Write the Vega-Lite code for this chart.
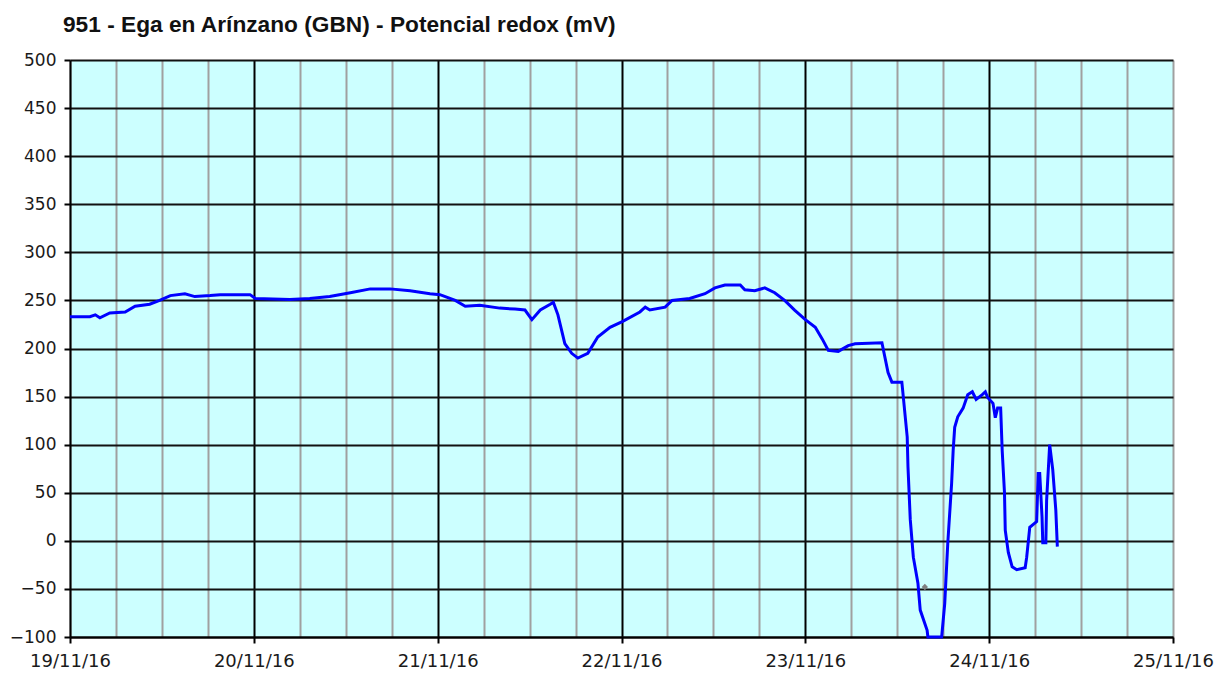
{
  "$schema": "https://vega.github.io/schema/vega-lite/v6.json",
  "width": 1103,
  "height": 577,
  "autosize": "none",
  "padding": {"left": 70, "top": 60, "right": 46, "bottom": 36},
  "background": "white",
  "title": {
    "text": "951 - Ega en Arínzano (GBN) - Potencial redox (mV)",
    "anchor": "start",
    "frame": "group",
    "dx": -7,
    "offset": 14,
    "font": "Liberation Sans",
    "fontSize": 22.7,
    "fontWeight": "bold",
    "color": "#111"
  },
  "config": {
    "view": {"fill": "#ccffff", "stroke": null},
    "axis": {
      "labelFont": "DejaVu Sans",
      "labelFontSize": 17,
      "labelColor": "#1a1a1a",
      "domainColor": "#000",
      "domainWidth": 2,
      "tickColor": "#000",
      "tickWidth": 2,
      "tickSize": 6,
      "gridWidth": 2,
      "title": null
    }
  },
  "datasets": {
    "redox": [
      {"h": 0, "v": 233}, {"h": 2.6, "v": 233}, {"h": 3.3, "v": 235}, {"h": 3.9, "v": 232},
      {"h": 5.2, "v": 237}, {"h": 7.2, "v": 238}, {"h": 8.5, "v": 244}, {"h": 10.4, "v": 246},
      {"h": 11.7, "v": 250}, {"h": 13.1, "v": 255}, {"h": 15.0, "v": 257}, {"h": 16.3, "v": 254},
      {"h": 18.3, "v": 255}, {"h": 19.6, "v": 256}, {"h": 23.5, "v": 256}, {"h": 24.2, "v": 252},
      {"h": 28.7, "v": 251}, {"h": 31.3, "v": 252}, {"h": 33.9, "v": 254}, {"h": 36.6, "v": 258},
      {"h": 39.2, "v": 262}, {"h": 41.8, "v": 262}, {"h": 44.4, "v": 260}, {"h": 47.0, "v": 257},
      {"h": 48.3, "v": 256}, {"h": 50.3, "v": 250}, {"h": 51.6, "v": 244}, {"h": 53.5, "v": 245},
      {"h": 56.1, "v": 242}, {"h": 58.1, "v": 241}, {"h": 59.4, "v": 240}, {"h": 60.3, "v": 230},
      {"h": 61.4, "v": 240}, {"h": 62.7, "v": 246}, {"h": 63.1, "v": 248}, {"h": 63.7, "v": 235},
      {"h": 64.6, "v": 205}, {"h": 65.5, "v": 195}, {"h": 66.3, "v": 190}, {"h": 67.6, "v": 195},
      {"h": 68.9, "v": 212}, {"h": 70.5, "v": 222}, {"h": 72.1, "v": 228}, {"h": 74.4, "v": 238},
      {"h": 75.1, "v": 243}, {"h": 75.7, "v": 240}, {"h": 77.7, "v": 243}, {"h": 78.6, "v": 250},
      {"h": 80.9, "v": 252}, {"h": 82.9, "v": 257}, {"h": 84.2, "v": 263}, {"h": 85.5, "v": 266},
      {"h": 87.5, "v": 266}, {"h": 88.1, "v": 261}, {"h": 89.4, "v": 260}, {"h": 90.7, "v": 263},
      {"h": 92.0, "v": 258}, {"h": 93.3, "v": 250}, {"h": 94.6, "v": 240}, {"h": 96.0, "v": 230},
      {"h": 97.3, "v": 222}, {"h": 98.2, "v": 210}, {"h": 99.0, "v": 198}, {"h": 100.3, "v": 197},
      {"h": 101.6, "v": 203}, {"h": 102.5, "v": 205}, {"h": 106.0, "v": 206}, {"h": 106.8, "v": 175},
      {"h": 107.3, "v": 165}, {"h": 108.6, "v": 165}, {"h": 108.7, "v": 157}, {"h": 109.3, "v": 108},
      {"h": 109.4, "v": 77}, {"h": 109.7, "v": 22}, {"h": 110.1, "v": -17}, {"h": 110.7, "v": -44},
      {"h": 111.0, "v": -72}, {"h": 111.9, "v": -93}, {"h": 112.0, "v": -100}, {"h": 113.8, "v": -100},
      {"h": 114.2, "v": -65}, {"h": 114.6, "v": -2}, {"h": 115.1, "v": 60}, {"h": 115.3, "v": 94},
      {"h": 115.5, "v": 118}, {"h": 115.9, "v": 129}, {"h": 116.6, "v": 138}, {"h": 117.2, "v": 152},
      {"h": 117.8, "v": 155}, {"h": 118.3, "v": 147}, {"h": 119.1, "v": 152}, {"h": 119.5, "v": 155},
      {"h": 119.8, "v": 149}, {"h": 120.5, "v": 143}, {"h": 120.8, "v": 128}, {"h": 121.1, "v": 138},
      {"h": 121.5, "v": 138}, {"h": 121.7, "v": 94}, {"h": 122.0, "v": 50}, {"h": 122.1, "v": 11},
      {"h": 122.5, "v": -12}, {"h": 123.0, "v": -27}, {"h": 123.6, "v": -30}, {"h": 124.7, "v": -28},
      {"h": 124.9, "v": -17}, {"h": 125.3, "v": 14}, {"h": 126.2, "v": 20}, {"h": 126.4, "v": 70},
      {"h": 126.6, "v": 70}, {"h": 126.9, "v": 25}, {"h": 127.0, "v": -2}, {"h": 127.4, "v": -2},
      {"h": 127.5, "v": 42}, {"h": 127.9, "v": 100}, {"h": 128.3, "v": 74}, {"h": 128.7, "v": 32},
      {"h": 128.9, "v": -6}
    ],
    "marker": [{"h": 111.6, "v": -48}]
  },
  "layer": [
    {
      "data": {"name": "redox"},
      "mark": {"type": "line", "color": "#0000ff", "strokeWidth": 3, "interpolate": "linear"},
      "encoding": {
        "x": {
          "field": "h",
          "type": "quantitative",
          "scale": {"domain": [0, 144], "nice": false, "zero": false},
          "axis": {
            "values": [0, 6, 12, 18, 24, 30, 36, 42, 48, 54, 60, 66, 72, 78, 84, 90, 96, 102, 108, 114, 120, 126, 132, 138, 144],
            "labelExpr": "datum.value % 24 === 0 ? (19 + datum.value / 24) + '/11/16' : ''",
            "labelFontSize": 18,
            "labelPadding": 9,
            "labelOverlap": false,
            "labelFlush": false,
            "grid": true,
            "gridColor": {"condition": {"test": "datum.value % 24 === 0 && datum.value > 0 && datum.value < 144", "value": "#000000"}, "value": "#a0a0a0"},
            "tickOpacity": {"condition": {"test": "datum.value % 24 === 0", "value": 1}, "value": 0}
          }
        },
        "y": {
          "field": "v",
          "type": "quantitative",
          "scale": {"domain": [-100, 500], "nice": false, "zero": false},
          "axis": {
            "values": [-100, -50, 0, 50, 100, 150, 200, 250, 300, 350, 400, 450, 500],
            "labelPadding": 8,
            "grid": true,
            "gridColor": "#111111"
          }
        }
      }
    },
    {
      "data": {"name": "marker"},
      "mark": {"type": "point", "shape": "diamond", "filled": true, "color": "#808080", "size": 40, "opacity": 1},
      "encoding": {
        "x": {"field": "h", "type": "quantitative"},
        "y": {"field": "v", "type": "quantitative"}
      }
    }
  ]
}
